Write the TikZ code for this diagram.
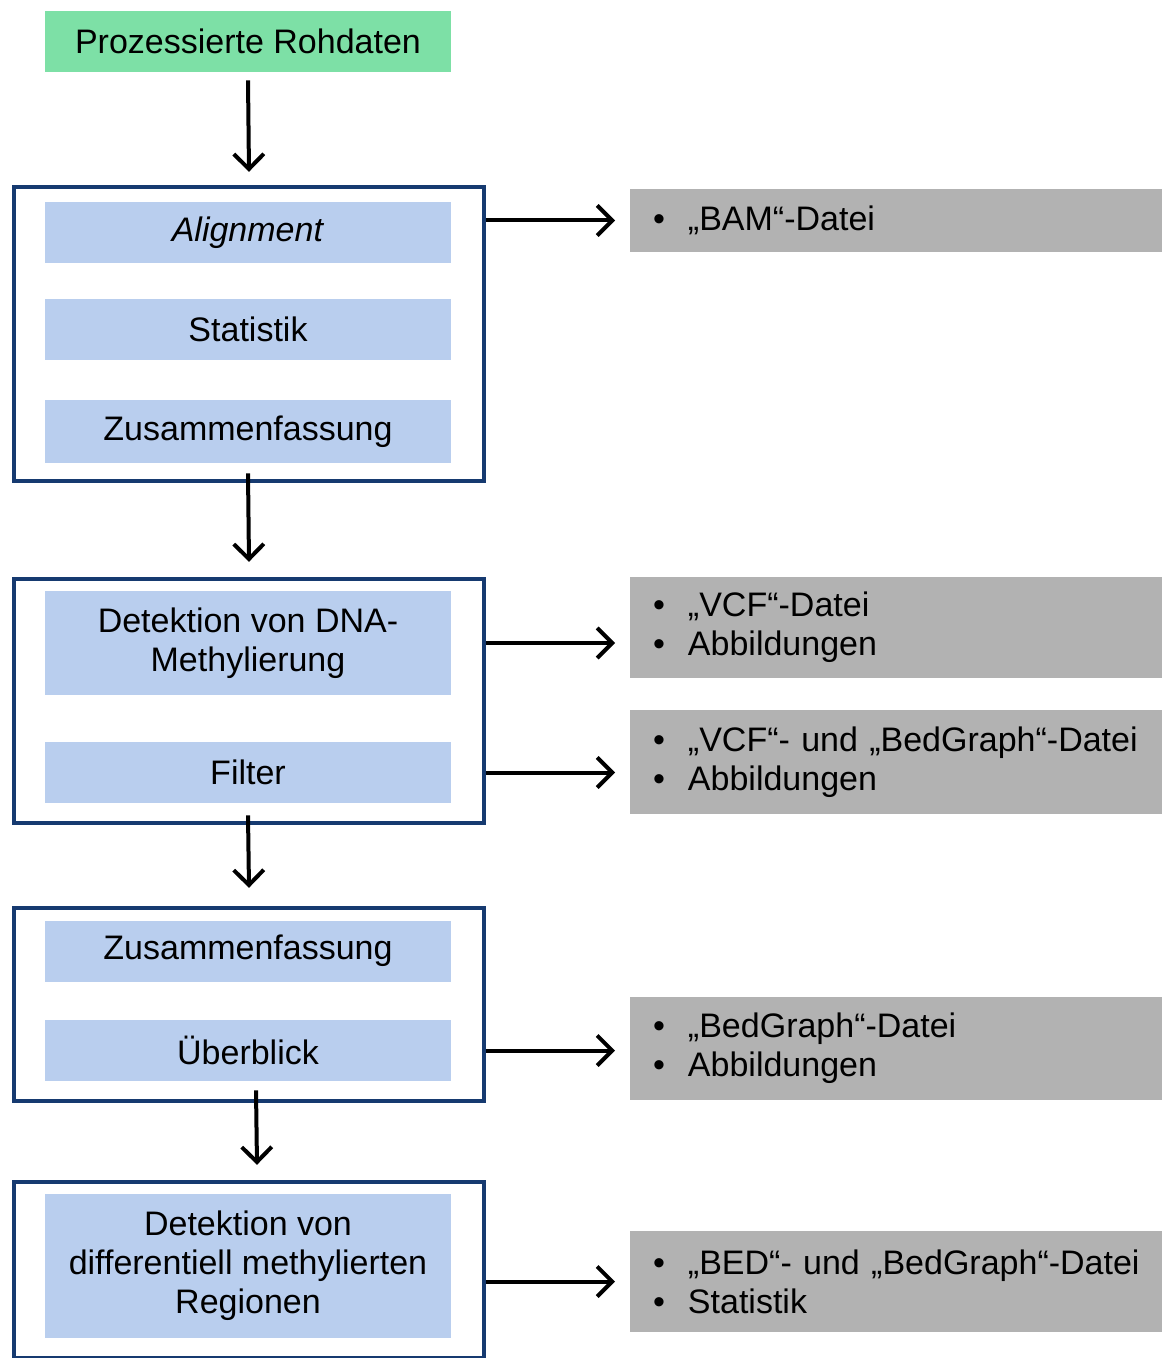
\documentclass[tikz,border=0pt]{standalone}
\usepackage{fontspec}
\setmainfont{Liberation Sans}
\usetikzlibrary{arrows.meta}
\definecolor{rawgreen}{RGB}{125,224,166}
\definecolor{stepblue}{RGB}{185,206,238}
\definecolor{framenavy}{RGB}{22,58,112}
\definecolor{outgray}{RGB}{178,178,178}
\newcommand{\itm}[1]{\mbox{\makebox[17.5pt][l]{\textbullet}#1}}
\tikzset{
	every node/.style={font=\fontsize{17}{19.5}\selectfont},
	stepbox/.style={fill=stepblue,minimum width=203pt,minimum height=30.5pt,inner sep=0pt,align=center},
	frame/.style={draw=framenavy,line width=2.2pt,minimum width=235pt,inner sep=0pt},
	outbox/.style={fill=outgray,minimum width=266pt,inner xsep=11.5pt,text width=243pt,align=left,outer xsep=7.5pt},
	arr/.style={->,line width=2pt}
}
\begin{document}
\begin{tikzpicture}[x=0.5pt,y=-0.5pt,>/.tip={Straight Barb[length=7.5pt,width=15pt]}]
	\useasboundingbox (0,0) rectangle (1162,1358);
	\node [fill=rawgreen,minimum width=203pt,minimum height=30.5pt,inner sep=0pt] (raw) at (248,41.5) {Prozessierte Rohdaten};

	\node [frame,minimum height=147pt] (box1) at (249,334) {};
	\node [stepbox] (align) at (248,232.5) {\textit{Alignment}};
	\node [stepbox] (stat) at (248,329.5) {Statistik};
	\node [stepbox,minimum height=31.5pt] (zus1) at (248,431.5) {Zusammenfassung};

	\node [frame,minimum height=122pt] (box2) at (249,701) {};
	\node [stepbox,minimum height=52pt] (det) at (248,643) {Detektion von DNA-\\Methylierung};
	\node [stepbox] (filter) at (248,772.5) {Filter};

	\node [frame,minimum height=96.5pt] (box3) at (249,1004.5) {};
	\node [stepbox] (zus2) at (248,951) {Zusammenfassung};
	\node [stepbox] (ueber) at (248,1050.5) {Überblick};

	\node [frame,minimum height=88pt] (box4) at (249,1270) {};
	\node [stepbox,minimum height=72pt] (dmr) at (248,1266) {Detektion von\\differentiell methylierten\\Regionen};

	\node [outbox,minimum height=31.5pt] (bam) at (896,220.5) {\itm{„BAM“-Datei}};
	\node [outbox,minimum height=50.5pt] (vcf) at (896,627.5) {\itm{„VCF“-Datei}\\\itm{Abbildungen}};
	\node [outbox,minimum height=52pt] (vcfbed) at (896,762) {\itm{„VCF“- und „BedGraph“-Datei}\\\itm{Abbildungen}};
	\node [outbox,minimum height=51.5pt] (bedg) at (896,1048.5) {\itm{„BedGraph“-Datei}\\\itm{Abbildungen}};
	\node [outbox,minimum height=50.5pt] (bed) at (896,1281.5) {\itm{„BED“- und „BedGraph“-Datei}\\\itm{Statistik}};

	\draw [arr] ([yshift=-4pt]raw.south) -- ([yshift=6.5pt]box1.north);
	\draw [arr] ([yshift=-5pt]zus1.south) -- ([yshift=7.5pt]box2.north);
	\draw [arr] ([yshift=-6pt]filter.south) -- ([yshift=9pt]box3.north);
	\draw [arr] ([xshift=4pt,yshift=-4.5pt]ueber.south) -- ([xshift=4pt,yshift=7.5pt]box4.north);

	\draw [arr] (box1.east |- bam.west) -- (bam.west);
	\draw [arr] (box2.east |- det.east) -- (vcf.west |- det.east);
	\draw [arr] (box2.east |- filter.east) -- (vcfbed.west |- filter.east);
	\draw [arr] (box3.east |- ueber.east) -- (bedg.west |- ueber.east);
	\draw [arr] (box4.east |- bed.west) -- (bed.west);
\end{tikzpicture}
\end{document}
